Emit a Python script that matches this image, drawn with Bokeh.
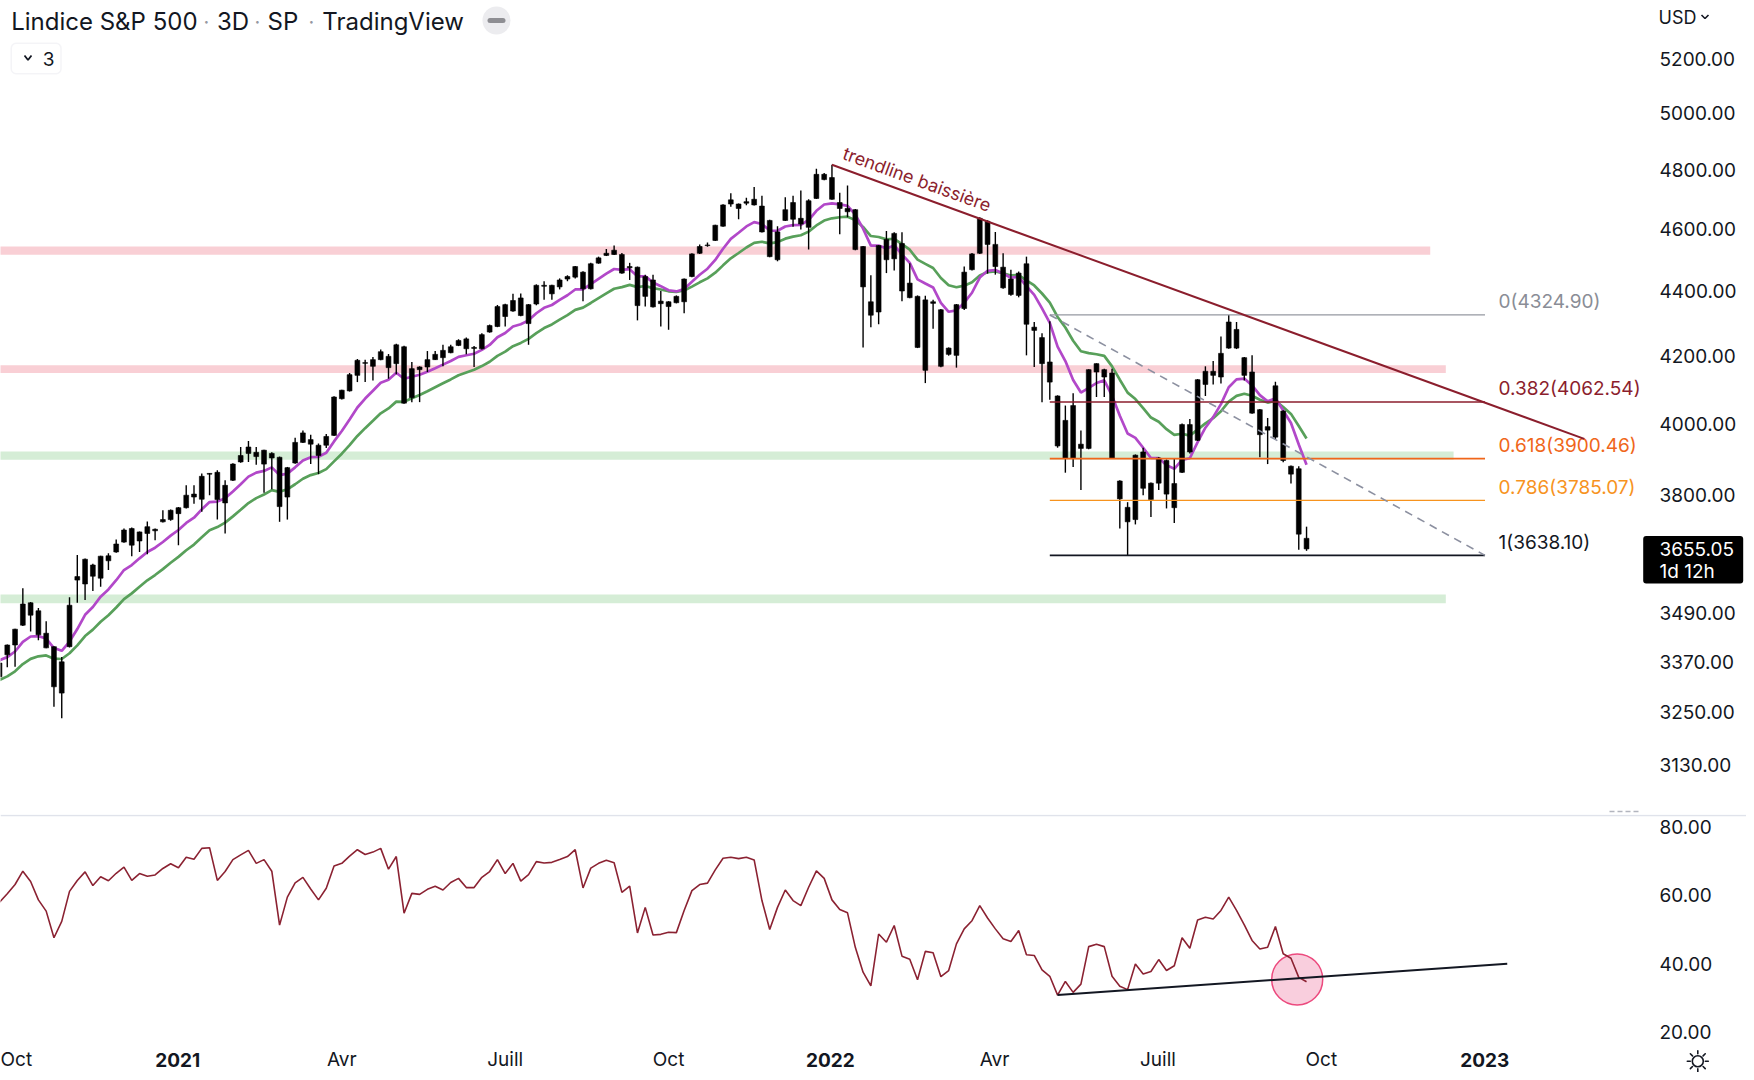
import math
from bokeh.plotting import figure
from bokeh.layouts import column
from bokeh.models import Range1d, FixedTicker, PrintfTickFormatter, Label, BoxAnnotation, Span
from bokeh.core.properties import value
from bokeh.embed import file_html
from bokeh.resources import INLINE

# ---------------- data (3-day bars, S&P 500) ----------------
opens = [3334,3387,3411,3460,3516,3496,3440,3407,3295,3407,
         3583,3564,3613,3579,3637,3647,3673,3709,3676,3696,
         3707,3727,3733,3749,3765,3802,3788,3857,3862,3778,
         3840,3891,3915,3918,3924,3902,3904,3794,3888,3946,
         3954,3938,3938,3966,4072,4095,4141,4179,4168,4188,
         4198,4176,4227,4075,4158,4166,4188,4194,4209,4231,
         4251,4222,4221,4272,4289,4357,4337,4378,4298,4359,
         4418,4418,4413,4438,4444,4460,4407,4489,4514,4517,
         4517,4474,4476,4383,4435,4360,4366,4363,4366,4446,
         4521,4546,4563,4610,4684,4684,4687,4700,4677,4629,
         4500,4629,4689,4636,4606,4703,4785,4774,4689,4669,
         4665,4543,4366,4334,4566,4503,4553,4425,4383,4156,
         4366,4341,4204,4201,4345,4468,4521,4626,4550,4476,
         4438,4386,4487,4287,4255,4181,4080,3901,4052,3929,
         3929,4151,4136,4148,3838,3727,3733,3919,3832,3832,
         3895,3765,3862,3997,3952,4114,4153,4136,4223,4280,
         4194,4151,4040,3981,3961,4036,3879,3872,3683]
highs = [3372,3412,3451,3553,3518,3503,3470,3408,3382,3530,
         3639,3630,3616,3637,3644,3680,3709,3712,3701,3728,
         3709,3758,3760,3767,3826,3826,3859,3860,3868,3840,
         3887,3933,3950,3933,3925,3918,3906,3877,3959,3980,
         3968,3943,3970,4079,4098,4148,4190,4188,4196,4219,
         4205,4236,4230,4181,4168,4214,4214,4233,4233,4250,
         4255,4229,4268,4295,4356,4360,4391,4392,4359,4421,
         4431,4420,4440,4450,4480,4463,4490,4510,4535,4546,
         4522,4490,4478,4452,4452,4400,4368,4386,4440,4521,
         4550,4556,4615,4683,4720,4686,4705,4742,4712,4631,
         4610,4707,4712,4730,4700,4804,4790,4818,4722,4747,
         4667,4545,4450,4548,4594,4590,4590,4489,4386,4385,
         4372,4343,4225,4359,4478,4522,4640,4630,4591,4521,
         4468,4462,4510,4303,4268,4305,4082,4052,4088,3980,
         4159,4177,4161,4161,3840,3780,3912,3931,3834,3905,
         3898,3900,4000,4013,4130,4168,4184,4258,4324.9,4303,
         4196,4201,4042,4016,4122,4038,3881,3879,3714]
lows = [3330,3357,3358,3458,3444,3423,3403,3263,3236,3405,
        3516,3523,3546,3557,3600,3645,3671,3636,3647,3641,
        3678,3725,3730,3665,3763,3776,3754,3799,3733,3696,
        3838,3889,3891,3883,3806,3815,3727,3733,3886,3944,
        3885,3857,3930,3964,4070,4093,4121,4121,4126,4186,
        4131,4144,4057,4062,4062,4151,4187,4168,4207,4229,
        4204,4166,4219,4270,4287,4289,4335,4321,4233,4355,
        4372,4372,4405,4431,4440,4368,4405,4487,4512,4515,
        4455,4435,4308,4351,4348,4289,4279,4361,4330,4444,
        4519,4542,4561,4608,4675,4633,4680,4679,4589,4508,
        4495,4627,4608,4599,4533,4701,4765,4698,4583,4640,
        4531,4225,4287,4296,4457,4465,4368,4377,4223,4118,
        4282,4165,4200,4164,4340,4465,4519,4455,4452,4407,
        4385,4380,4201,4166,4062,4069,3931,3861,3877,3813,
        3927,4077,4077,3899,3709,3638.1,3720,3799,3740,3813,
        3763,3724,3860,3915,3950,4080,4114,4117,4221,4220,
        4126,4028,3904,3885,3955,3890,3831,3653,3650]
closes = [3367,3411,3450,3513,3485,3436,3404,3310,3370,3510,
          3574,3628,3584,3636,3624,3668,3705,3665,3700,3714,
          3703,3733,3758,3765,3799,3794,3851,3859,3787,3826,
          3885,3909,3933,3906,3885,3915,3768,3875,3946,3973,
          3941,3909,3963,4077,4097,4143,4186,4177,4188,4212,
          4164,4233,4059,4161,4166,4188,4204,4216,4227,4246,
          4221,4225,4264,4292,4351,4320,4370,4323,4357,4418,
          4415,4391,4435,4446,4478,4407,4487,4506,4521,4531,
          4457,4478,4354,4446,4350,4368,4351,4383,4438,4519,
          4543,4548,4613,4681,4698,4669,4692,4681,4591,4510,
          4591,4665,4633,4617,4695,4785,4767,4700,4669,4658,
          4533,4413,4324,4546,4500,4586,4400,4379,4225,4372,
          4361,4168,4223,4357,4460,4519,4636,4550,4478,4410,
          4389,4457,4296,4277,4176,4121,3936,4009,3901,3941,
          4158,4176,4158,3901,3789,3766,3910,3818,3787,3902,
          3802,3831,3997,3919,4128,4153,4141,4207,4303,4223,
          4141,4030,3968,3991,4110,3895,3857,3694,3655.05]
rsi = [58.0,60.5,63.2,67.1,64.1,58.7,55.4,47.6,52.4,61.2,
       64.4,66.9,62.9,65.5,64.3,66.5,68.3,64.4,66.4,65.6,
       66.0,67.9,69.3,68.1,71.2,70.6,73.8,74.0,64.4,67.0,
       70.5,71.9,73.2,69.4,70.5,67.1,51.3,59.5,63.7,65.3,
       61.9,58.7,62.1,68.6,69.4,71.5,73.4,72.0,72.7,73.8,
       67.7,71.4,54.8,60.6,60.3,61.8,62.7,61.6,63.8,65.0,
       62.3,62.3,65.3,67.0,70.5,66.4,69.4,64.2,66.1,69.9,
       69.5,69.7,70.5,71.4,73.4,62.2,68.0,69.4,70.3,69.6,
       60.9,62.7,49.0,56.5,48.4,48.6,49.2,49.1,55.6,61.4,
       63.2,63.6,67.5,70.9,71.2,70.8,71.2,70.4,58.5,50.0,
       56.5,61.6,58.5,57.0,62.4,67.2,65.0,58.7,55.9,54.9,
       44.8,37.5,33.5,48.7,46.3,51.2,42.2,41.3,35.3,43.6,
       43.2,36.2,38.0,45.8,50.2,52.6,57.0,53.4,50.2,47.3,
       46.5,49.7,42.6,42.4,38.2,36.3,30.8,34.8,31.6,34.0,
       45.0,45.7,45.0,36.3,33.4,32.4,39.9,37.0,37.7,41.2,
       38.0,39.4,47.6,44.5,52.8,53.6,53.1,55.6,59.5,55.6,
       51.4,46.8,44.3,44.8,50.9,42.9,41.6,36.0,34.7]

ema_fast_len, ema_fast_start = 9, 3374
ema_slow_len, ema_slow_start = 18, 3326

price_ticks = [3130, 3250, 3370, 3490, 3800, 4000, 4200, 4400, 4600, 4800, 5000, 5200]
rsi_ticks = [20, 40, 60, 80]
month_ticks = [1.29, 22.9, 44.0, 65.0, 86.0, 106.8, 127.9, 148.9, 169.9, 190.9]
month_labels = ["Oct", "2021", "Avr", "Juill", "Oct", "2022", "Avr", "Juill", "Oct", "2023"]
year_labels = {"2021", "2022", "2023"}

pink_top = [4543, 4171]
pink_bottom = [4516, 4148]
pink_end = [183.9, 185.9]
green_top = [3920, 3537]
green_bottom = [3897, 3515]
green_end = [186.9, 185.9]

fib_names = ["0", "0.382", "0.618", "0.786", "1"]
fib_prices = [4324.90, 4062.54, 3900.46, 3785.07, 3638.10]
fib_start_bar, fib_end_bar = 135.0, 190.94

trend_bars = [107.0, 203.7]
trend_prices = [4818.0, 3956.0]
rsi_trend_bars = [136.0, 193.8]
rsi_trend_vals = [30.8, 40.0]
rsi_mark_bar, rsi_mark_val = 166.8, 35.4
last_price = 3655.05

# ---------------- geometry helpers ----------------
BAR_PX = 7.78
W = 1746
AXIS_X = 1645

def bx(px):
    return (px + 1.0) / BAR_PX

def pr(py):
    return 5200.0 * math.exp(-(py - 58.2) / 1390.5)

def rv(py):
    return 80.0 - (py - 826.7) / 3.412

FONT = "Inter"
TXT = "#131722"

bars = list(range(len(closes)))
body_top = [max(o, c) for o, c in zip(opens, closes)]
body_bot = [min(o, c) for o, c in zip(opens, closes)]

def ema(vals, n, start):
    a = 2.0 / (n + 1)
    out = [start]
    for v in vals[1:]:
        out.append(out[-1] + a * (v - out[-1]))
    return out

ema_fast = ema(closes, ema_fast_len, ema_fast_start)
ema_slow = ema(closes, ema_slow_len, ema_slow_start)

xr = Range1d(bx(0), bx(W))

def style_axis(ax, standoff):
    ax.axis_line_color = None
    ax.major_tick_line_color = None
    ax.minor_tick_line_color = None
    ax.major_tick_out = 0
    ax.major_tick_in = 0
    ax.major_label_standoff = standoff
    ax.major_label_text_font = FONT
    ax.major_label_text_font_size = "19px"
    ax.major_label_text_color = TXT

# ---------------- price panel ----------------
p = figure(frame_width=W, frame_height=814, min_border=0, min_border_left=0, min_border_right=0,
           min_border_top=0, min_border_bottom=0, y_axis_type="log", y_axis_location="right",
           x_axis_location=None, x_range=xr, y_range=Range1d(pr(814), pr(0)),
           toolbar_location=None, output_backend="svg")
p.outline_line_color = None
p.grid.visible = False
p.background_fill_color = "white"
p.border_fill_color = "white"
ay = p.yaxis[0]
ay.ticker = FixedTicker(ticks=price_ticks)
ay.formatter = PrintfTickFormatter(format="%.2f")
ay.fixed_location = bx(AXIS_X)
style_axis(ay, 14)

x_left = bx(-20)
p.quad(left=[x_left] * 2, right=pink_end, top=pink_top, bottom=pink_bottom,
       fill_color="#f9cfd5", line_color=None)
p.quad(left=[x_left] * 2, right=green_end, top=green_top, bottom=green_bottom,
       fill_color="#d5edd6", line_color=None)

p.line(bars, ema_slow, line_color="#58a05a", line_width=2.7)
p.line(bars, ema_fast, line_color="#b248c9", line_width=2.7)

p.segment(x0=bars, y0=lows, x1=bars, y1=highs, line_color="black", line_width=1.4)
p.vbar(x=bars, width=0.62, top=body_top, bottom=body_bot, fill_color="black",
       line_color="black", line_width=0.6)

# fibonacci retracement
fib_line_colors = ["#9598a1", "#8b1e2d", "#f0661a", "#f7931e", "#131722"]
fib_text_colors = ["#8a8d96", "#8b1e2d", "#f0661a", "#f7931e", "#131722"]
fib_widths = [1.3, 1.5, 1.8, 1.3, 1.8]
for price, lc, lw in zip(fib_prices, fib_line_colors, fib_widths):
    p.line([fib_start_bar, fib_end_bar], [price, price], line_color=lc, line_width=lw)
p.line([fib_start_bar, fib_end_bar], [fib_prices[0], fib_prices[-1]], line_color="#8c90a0",
       line_width=1.6, line_dash="8 6")
p.text(x=[bx(1498)] * 5, y=fib_prices,
       text=["%s(%.2f)" % (n, v) for n, v in zip(fib_names, fib_prices)],
       text_color=fib_text_colors, text_font=value(FONT), text_font_size="19px",
       text_baseline="middle", text_align="left", y_offset=-13)

# bearish trendline
p.line(trend_bars, trend_prices, line_color="#8b1e2d", line_width=2)
ang = -math.atan(274.1 / 754.0)
p.text(x=[bx(839.7)], y=[pr(162.0)], text=["trendline baissière"], angle=ang,
       text_color="#8b1e2d", text_font=value(FONT), text_font_size="18px",
       text_baseline="bottom", text_align="left")

# header
p.text(x=[bx(10.7), bx(216.5), bx(267), bx(321.8)], y=[pr(21)] * 4,
       text=["Lindice S&P 500", "3D", "SP", "TradingView"], text_color=TXT,
       text_font=value(FONT), text_font_size="24px", text_baseline="middle", text_align="left")
p.text(x=[bx(206), bx(257), bx(311)], y=[pr(21)] * 3, text=["·", "·", "·"],
       text_color="#9598a1", text_font=value(FONT), text_font_size="20px",
       text_baseline="middle", text_align="center")
p.scatter(x=[bx(496)], y=[pr(20)], size=28, fill_color="#ececef", line_color=None)
p.segment(x0=[bx(489.5)], x1=[bx(502.5)], y0=[pr(20)], y1=[pr(20)], line_width=5,
          line_color="#8e8e93", line_cap="round")
p.add_layout(BoxAnnotation(left=bx(10.7), right=bx(60.5), top=pr(42.7), bottom=pr(73.3),
                           fill_alpha=0, line_color="#d9dce3",
                           line_width=1.5, border_radius=5))
p.line([bx(24), bx(27.5), bx(31)], [pr(55), pr(59.5), pr(55)], line_color=TXT, line_width=1.8)
p.text(x=[bx(48)], y=[pr(58.5)], text=["3"], text_color=TXT, text_font=value(FONT),
       text_font_size="19px", text_baseline="middle", text_align="center")
p.line([bx(1609), bx(1640)], [pr(811), pr(811)], line_color="#b2b5be", line_width=1.5,
       line_dash="5 3")

# right-side labels
p.add_layout(Label(x=bx(1658), y=pr(17), text="USD", text_color=TXT, text_font=FONT,
                   text_font_size="18px", text_baseline="middle", text_align="left"))
p.line([bx(1701), bx(1704.5), bx(1708)], [pr(14.5), pr(18), pr(14.5)], line_color=TXT,
       line_width=1.6)
p.add_layout(BoxAnnotation(left=bx(1642.7), right=bx(1742.7), top=pr(535.6), bottom=pr(583),
                           fill_color="black", fill_alpha=1, line_color=None, border_radius=3))
p.add_layout(Label(x=bx(1659), y=last_price, text="%.2f" % last_price, text_color="white",
                   text_font=FONT, text_font_size="19px", text_baseline="middle",
                   text_align="left"))
p.add_layout(Label(x=bx(1659), y=pr(570.5), text="1d 12h", text_color="white",
                   text_font=FONT, text_font_size="19px", text_baseline="middle",
                   text_align="left"))

# ---------------- RSI panel ----------------
q = figure(frame_width=W, frame_height=258, min_border=0, min_border_left=0, min_border_right=0,
           min_border_top=0, min_border_bottom=0, y_axis_location="right",
           x_range=xr, y_range=Range1d(rv(1072), rv(814)),
           toolbar_location=None, output_backend="svg")
q.outline_line_color = None
q.grid.visible = False
q.background_fill_color = "white"
q.border_fill_color = "white"
ry = q.yaxis[0]
ry.ticker = FixedTicker(ticks=rsi_ticks)
ry.formatter = PrintfTickFormatter(format="%.2f")
ry.fixed_location = bx(AXIS_X)
style_axis(ry, 14)

axx = q.xaxis[0]
axx.ticker = FixedTicker(ticks=month_ticks)
axx.major_label_overrides = {t: ("" if l in year_labels else l)
                             for t, l in zip(month_ticks, month_labels)}
axx.fixed_location = rv(1038)
style_axis(axx, 9)
for t, l in zip(month_ticks, month_labels):
    if l in year_labels:
        q.add_layout(Label(x=t, y=rv(1059), text=l, text_color=TXT, text_font=FONT,
                           text_font_size="19px", text_font_style="bold",
                           text_baseline="middle", text_align="center"))

q.add_layout(Span(location=rv(815), dimension="width", line_color="#e0e3eb", line_width=1.5))
q.scatter(x=[rsi_mark_bar], y=[rsi_mark_val], size=51, fill_color="#f8c6d7", fill_alpha=0.85,
          line_color="#ec4a7e", line_width=1.5)
q.line(bars, rsi, line_color="#8b2232", line_width=1.6)
q.line(rsi_trend_bars, rsi_trend_vals, line_color="#131722", line_width=2)

# settings (sun) icon drawn as glyphs
sun_cx, sun_cy = 1697.3, 1060.7
q.scatter(x=[bx(sun_cx)], y=[rv(sun_cy)], size=11, fill_color="white", line_color=TXT,
          line_width=1.6)
ray_x0, ray_y0, ray_x1, ray_y1 = [], [], [], []
for i in range(8):
    a = i * math.pi / 4
    ray_x0.append(bx(sun_cx + 7.5 * math.cos(a)))
    ray_y0.append(rv(sun_cy + 7.5 * math.sin(a)))
    ray_x1.append(bx(sun_cx + 10.5 * math.cos(a)))
    ray_y1.append(rv(sun_cy + 10.5 * math.sin(a)))
q.segment(x0=ray_x0, y0=ray_y0, x1=ray_x1, y1=ray_y1, line_color=TXT, line_width=1.6,
          line_cap="round")

layout = column(p, q, spacing=0)
open("out.html", "w").write(file_html(layout, INLINE))
